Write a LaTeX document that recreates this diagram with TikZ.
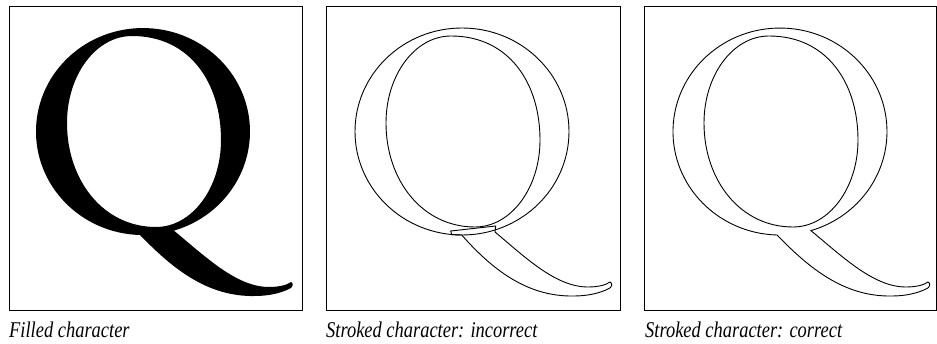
\documentclass[tikz,border=0pt]{standalone}
\usepackage{fontspec}
\setmainfont{Liberation Serif}
\newcommand{\captext}[1]{\scalebox{0.82}[1]{\fontsize{22.5}{24}\selectfont\itshape #1}}
\begin{document}
\begin{tikzpicture}[x=1pt,y=-1pt,
  frame/.style={draw=black,line width=1pt},
  outline/.style={draw=black,line width=0.9pt,line join=miter},
  caption/.style={anchor=base west,inner sep=0pt}]
\useasboundingbox (0,0) rectangle (937,344);
% glyph pieces (coordinates relative to panel)
\def\innerpath{(125,36) .. controls (183,36) and (214,83) .. (214,140) .. controls (214,188) and (185,227) .. (149,227) .. controls (96,227) and (60,180) .. (60,123) .. controls (60,75) and (89,36) .. (125,36) -- cycle}
\def\tailupper{.. controls (200,258) and (230,287) .. (262,287) .. controls (272,287) and (280,285) .. (284,282) .. controls (287,283) and (286,288) .. (282,289) .. controls (274,293) and (262,296) .. (248,296)}
\def\correctpath{(133,235) arc[start angle=91.6, end angle=433.2, x radius=107, y radius=103.5] \tailupper .. controls (200,297) and (165,268) .. (133,235) -- cycle}
% frames
\draw[frame] (9,7) rectangle (302,311);
\draw[frame] (326,7) rectangle (620,311);
\draw[frame] (644,7) rectangle (936,311);
% panel 1: filled
\begin{scope}[xshift=7pt]
  \fill[black,even odd rule] \correctpath \innerpath;
\end{scope}
% panel 2: stroked incorrectly
\begin{scope}[xshift=326pt]
  \draw[outline] (136,131.5) ellipse[x radius=107, y radius=103.5];
  \draw[outline] \innerpath;
  \draw[outline] (124.7,231) -- (169.7,226) -- (169,232) \tailupper .. controls (200,297) and (165,268) .. (135.7,235) -- (125.7,234.7) -- cycle;
\end{scope}
% panel 3: stroked correctly
\begin{scope}[xshift=644pt]
  \draw[outline] \correctpath;
  \draw[outline] \innerpath;
\end{scope}
% captions
\node[caption] (cap1) at (9,338) {\captext{Filled character}};
\node[caption] (cap2) at (326,338) {\captext{Stroked character: incorrect}};
\node[caption] (cap3) at (645,338) {\captext{Stroked character: correct}};
\end{tikzpicture}
\end{document}
